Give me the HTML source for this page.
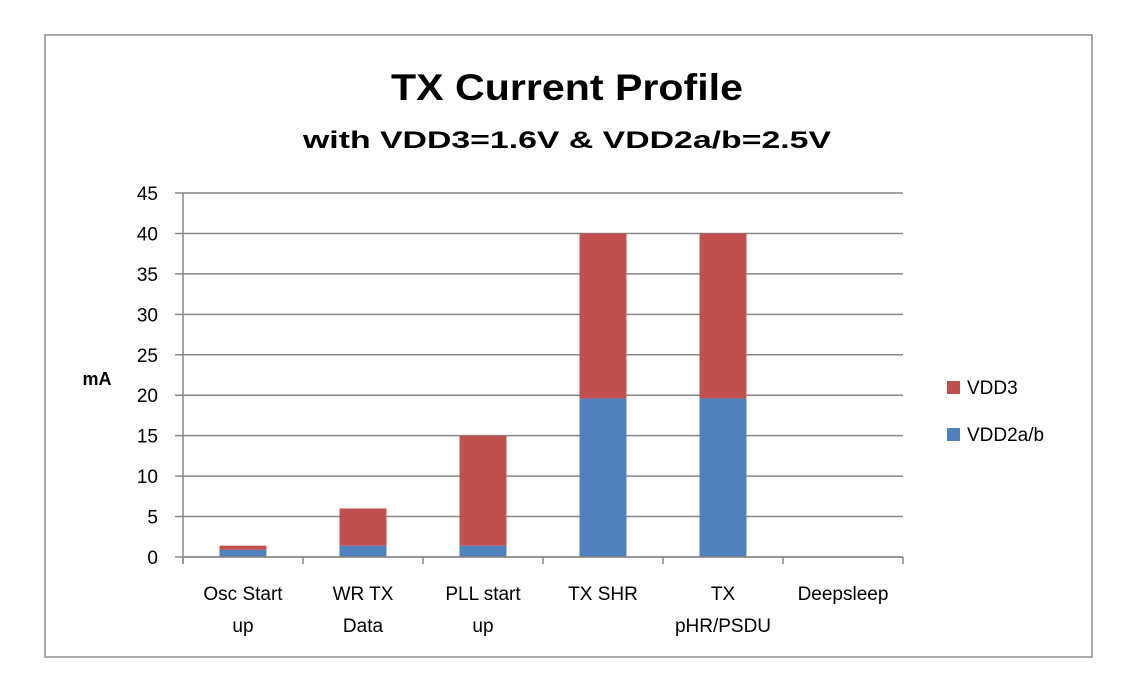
<!DOCTYPE html>
<html><head><meta charset="utf-8"><style>
body{margin:0;background:#fff;width:1135px;height:694px;overflow:hidden;font-family:"Liberation Sans",sans-serif}
</style></head><body>
<svg id="chart" width="1135" height="694" xmlns="http://www.w3.org/2000/svg">
<rect x="45" y="35" width="1047" height="622" fill="#fff" stroke="#8c8c8c" stroke-width="1.5"/>
<text x="567" y="100" text-anchor="middle" font-size="37" font-weight="bold" fill="#000" textLength="352" lengthAdjust="spacingAndGlyphs">TX Current Profile</text>
<text x="567" y="148" text-anchor="middle" font-size="24" font-weight="bold" fill="#000" textLength="528" lengthAdjust="spacingAndGlyphs">with VDD3=1.6V &amp; VDD2a/b=2.5V</text>
<text x="97" y="385" text-anchor="middle" font-size="18" font-weight="bold" fill="#000">mA</text>
<g id="grid"></g><g id="bars"></g><g id="axes"></g>
<rect x="947" y="381" width="13" height="13" fill="#c0504d"/>
<text x="967" y="394" font-size="19" fill="#000">VDD3</text>
<rect x="947" y="428" width="13" height="13" fill="#4f81bd"/>
<text x="967" y="441" font-size="19" fill="#000">VDD2a/b</text>
</svg>
<script>
const categories=[["Osc Start","up"],["WR TX","Data"],["PLL start","up"],["TX SHR",""],["TX","pHR/PSDU"],["Deepsleep",""]];
const vdd2=[0.9,1.4,1.4,19.6,19.6,0];
const vdd3=[0.5,4.6,13.6,20.4,20.4,0];
const yTicks=[0,5,10,15,20,25,30,35,40,45];
const NS="http://www.w3.org/2000/svg";
const X0=183,X1=903,Y0=557,Y1=193,YMAX=45;
const y=v=>Y0-(v/YMAX)*(Y0-Y1);
const band=(X1-X0)/categories.length;
const x=i=>X0+band*i;
function mk(t,a,p){const e=document.createElementNS(NS,t);for(const k in a)e.setAttribute(k,a[k]);p.appendChild(e);return e;}
const grid=document.getElementById('grid'),bars=document.getElementById('bars'),axes=document.getElementById('axes');
yTicks.forEach(v=>{
 const l=mk('line',{x1:X0-8,x2:X1,y1:y(v),y2:y(v),stroke:'#878787','stroke-width':1.5},grid);
 
 
 const t=mk('text',{x:158,y:y(v)+7,'text-anchor':'end','font-size':19,fill:'#000'},grid);
 t.textContent=v;
 
 
});
const bw=47;
categories.forEach((c,i)=>{
 const cx=x(i)+band/2;
 if(vdd2[i]>0){const b=mk('rect',{x:cx-bw/2,y:y(vdd2[i]),width:bw,height:Y0-y(vdd2[i]),fill:'#4f81bd'},bars);
 
 }
 if(vdd3[i]>0){const top=vdd2[i]+vdd3[i];const r=mk('rect',{x:cx-bw/2,y:y(top),width:bw,height:y(vdd2[i])-y(top),fill:'#c0504d'},bars);
 
 }
 c.forEach((s,j)=>{if(!s)return;const t=mk('text',{x:cx,y:600+j*32,'text-anchor':'middle','font-size':19,fill:'#000'},axes);
 t.textContent=s;
 
 });
});
for(let i=0;i<=categories.length;i++){const tk=mk('line',{x1:x(i),x2:x(i),y1:Y0,y2:Y0+7,stroke:'#878787','stroke-width':1.5},axes);
 
 }
const ya=mk('line',{x1:X0,x2:X0,y1:Y1,y2:Y0+7,stroke:'#878787','stroke-width':1.5},axes);


const xa=mk('line',{x1:X0,x2:X1,y1:Y0,y2:Y0,stroke:'#878787','stroke-width':1.5},axes);


</script>
</body></html>
